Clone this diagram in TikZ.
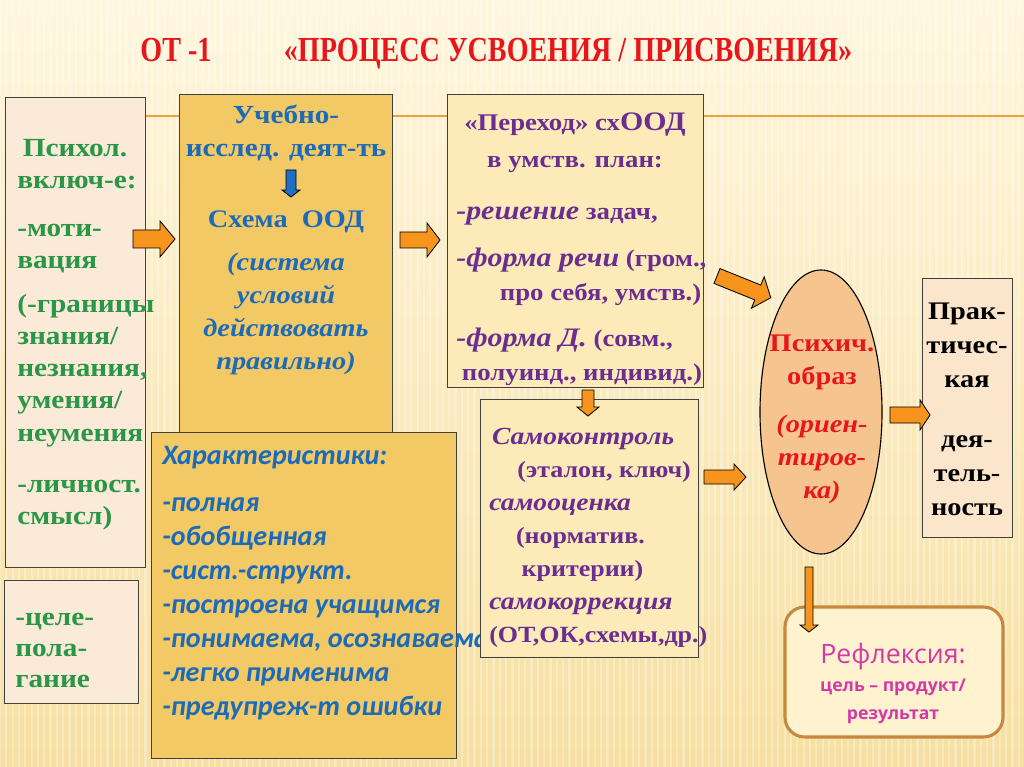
\documentclass[tikz,border=0pt]{standalone}
\usepackage{fontspec}
\setmainfont{Liberation Serif}[FakeStretch=1.12]
\newfontfamily\titlefont{Liberation Serif}[FakeStretch=0.8]
\newfontfamily\calfont{Carlito}
\newfontfamily\reffont{Open Sans}
\usepackage{tikz}
\usetikzlibrary{patterns.meta}

\definecolor{bgtop}{HTML}{FFF6DE}
\definecolor{bgbot}{HTML}{F6DFA0}
\definecolor{lineorange}{HTML}{E9A23B}
\definecolor{arrorange}{HTML}{F7941D}
\definecolor{arrblue}{HTML}{1F6FC5}
\definecolor{psyfill}{HTML}{FBEAD7}
\definecolor{oodfill}{HTML}{F2C964}
\definecolor{transfill}{HTML}{FCEBB8}
\definecolor{ellfill}{HTML}{F6C58F}
\definecolor{pracfill}{HTML}{FBE6CB}
\definecolor{reffill}{HTML}{FFF3CF}
\definecolor{refdraw}{HTML}{C8873E}
\definecolor{tgreen}{HTML}{2A9648}
\definecolor{tblue}{HTML}{1B6BB8}
\definecolor{tpurple}{HTML}{6B2E90}
\definecolor{tred}{HTML}{E8161B}
\definecolor{tmagenta}{HTML}{D43AA6}

\begin{document}
\begin{tikzpicture}[y=-0.025cm,x=0.025cm,
	box/.style={draw=black!75, line width=0.6pt},
	fatarrow/.style={draw=black, line width=0.6pt, fill=arrorange},
	txt/.style={inner sep=0pt, anchor=north west, align=left},
	ctxt/.style={inner sep=0pt, anchor=north, align=center},
	]
	\newcommand\RArrow[4]{+(0,-#3) -- +(#1-#2,-#3) -- +(#1-#2,-#4) -- +(#1,0) -- +(#1-#2,#4) -- +(#1-#2,#3) -- +(0,#3) -- cycle}

	% background
	\useasboundingbox (0,0) rectangle (1024,767);
	\fill[top color=bgtop, bottom color=bgbot] (0,0) rectangle (1024,767);
	\fill[pattern={Lines[angle=90,distance=4.5pt,line width=1.6pt]}, pattern color=white, opacity=0.3] (0,0) rectangle (1024,767);
	\draw[line width=2pt, lineorange] (145,116) -- (1024,116);

	% title
	\node[inner sep=0pt, anchor=base, text=tred, font=\titlefont\bfseries\fontsize{25}{25}\selectfont] (ot) at (176,62) {ОТ -1};
	\node[inner sep=0pt, anchor=base, text=tred, font=\titlefont\bfseries\fontsize{25}{25}\selectfont] (title) at (568,62) {«ПРОЦЕСС УСВОЕНИЯ / ПРИСВОЕНИЯ»};

	% left column
	\draw[box, fill=psyfill] (5,97) rectangle (145,567);
	\node[txt, text=tgreen, font=\bfseries\fontsize{18.6}{22.8}\selectfont] (psy) at (17,139)
		{\hspace*{4pt}Психол.\\включ-е:\\[11pt]-моти-\\вация\\[9pt](-границы\\знания/\\незнания,\\умения/\\неумения\\[14pt]-личност.\\смысл)};
	\draw[box, fill=psyfill] (4,580) rectangle (138,703);
	\node[txt, text=tgreen, font=\bfseries\fontsize{18.6}{22}\selectfont] (goal) at (15,613)
		{-целе-\\пола-\\гание};

	% OOD
	\draw[box, fill=oodfill] (179,94) rectangle (392,432);
	\node[ctxt, text=tblue, font=\bfseries\fontsize{18.5}{23.5}\selectfont] (study) at (286,105)
		{Учебно-\\исслед. деят-ть};
	\node[ctxt, text=tblue, font=\bfseries\fontsize{18}{18}\selectfont] (ood) at (286,210)
		{Схема~~ООД};
	\node[ctxt, text=tblue, font=\bfseries\itshape\fontsize{18}{23.3}\selectfont] (cond) at (286,253)
		{(система\\условий\\действовать\\правильно)};

	% characteristics
	\draw[box, fill=oodfill] (151,432) rectangle (456,758);
	\node[txt, text=tblue, font=\calfont\bfseries\itshape\fontsize{20}{24.2}\selectfont] (props) at (162,446)
		{Характеристики:\\[9pt]-полная\\-обобщенная\\-сист.-структ.\\-построена учащимся\\-понимаема, осознаваема\\-легко применима\\-предупреж-т ошибки};

	% transition
	\draw[box, fill=transfill] (447,94) rectangle (703,387);
	\node[ctxt, text=tpurple, font=\bfseries\fontsize{17}{26}\selectfont] (trans) at (575,113)
		{«Переход» сх{\fontsize{19}{26}\selectfont ООД}\\в умств. план:};
	\node[txt, text=tpurple, font=\bfseries\fontsize{17}{24}\selectfont] (forms) at (456,207)
		{{\fontsize{19}{24}\selectfont\itshape -решение} задач,\\[9pt]{\fontsize{19}{24}\selectfont\itshape -форма речи} (гром.,\\\hspace*{31pt}про себя, умств.)\\[9pt]{\fontsize{19}{24}\selectfont\itshape -форма Д.} (совм.,\\\hspace*{4pt}полуинд., индивид.)};

	% self-control
	\draw[box, fill=transfill] (480,399) rectangle (698,657);
	\node[txt, text=tpurple, font=\bfseries\fontsize{16.5}{23.5}\selectfont] (self) at (489,428)
		{\hspace*{2pt}{\fontsize{17.5}{23.5}\selectfont\itshape Самоконтроль}\\\hspace*{20pt}(эталон, ключ)\\{\fontsize{17.5}{23.5}\selectfont\itshape самооценка}\\\hspace*{19pt}(норматив.\\\hspace*{23pt}критерии)\\{\fontsize{17.5}{23.5}\selectfont\itshape самокоррекция}\\(ОТ,ОК,схемы,др.)};

	% image
	\draw[line width=0.8pt, fill=ellfill] (821,412) ellipse [x radius=61, y radius=142];
	\node[ctxt, text=tred, font=\bfseries\fontsize{18}{23.5}\selectfont] (image) at (822,335)
		{Психич.\\образ\\[10pt]\textit{(ориен-}\\\textit{тиров-}\\\textit{ка)}};

	% practice
	\draw[box, fill=pracfill] (922,278) rectangle (1012,537);
	\node[ctxt, text=black, font=\bfseries\fontsize{18}{24.2}\selectfont] (prac) at (967,303)
		{Прак-\\тичес-\\кая\\[18pt]дея-\\тель-\\ность};

	% reflection
	\draw[line width=2.2pt, draw=refdraw, fill=reffill, rounded corners=14pt] (785,607) rectangle (1003,737);
	\node[ctxt, text=tmagenta, font=\reffont\fontsize{19}{20}\selectfont] (refl) at (893,643)
		{Рефлексия:\\{\bfseries\fontsize{12.5}{20}\selectfont цель – продукт/}\\{\bfseries\fontsize{12.5}{20}\selectfont результат}};

	% arrows
	\draw[fatarrow] (133,239) \RArrow{42}{15}{9}{18};
	\draw[fatarrow] (400,240) \RArrow{40}{13}{8}{17};
	\draw[fatarrow, shift={(717,276)}, rotate=-22] (0,0) \RArrow{58}{14}{8}{17};
	\draw[fatarrow, shift={(588,390)}, rotate=-90] (0,0) \RArrow{26}{9}{6}{11};
	\draw[fatarrow] (704,477) \RArrow{42}{12}{7}{13};
	\draw[fatarrow] (890,415) \RArrow{40}{10}{8}{15};
	\draw[fatarrow, shift={(809,567)}, rotate=-90] (0,0) \RArrow{65}{7}{4}{9};
	\draw[fatarrow, fill=arrblue, shift={(291,170)}, rotate=-90] (0,0) \RArrow{27}{7}{5}{9};
\end{tikzpicture}
\end{document}
